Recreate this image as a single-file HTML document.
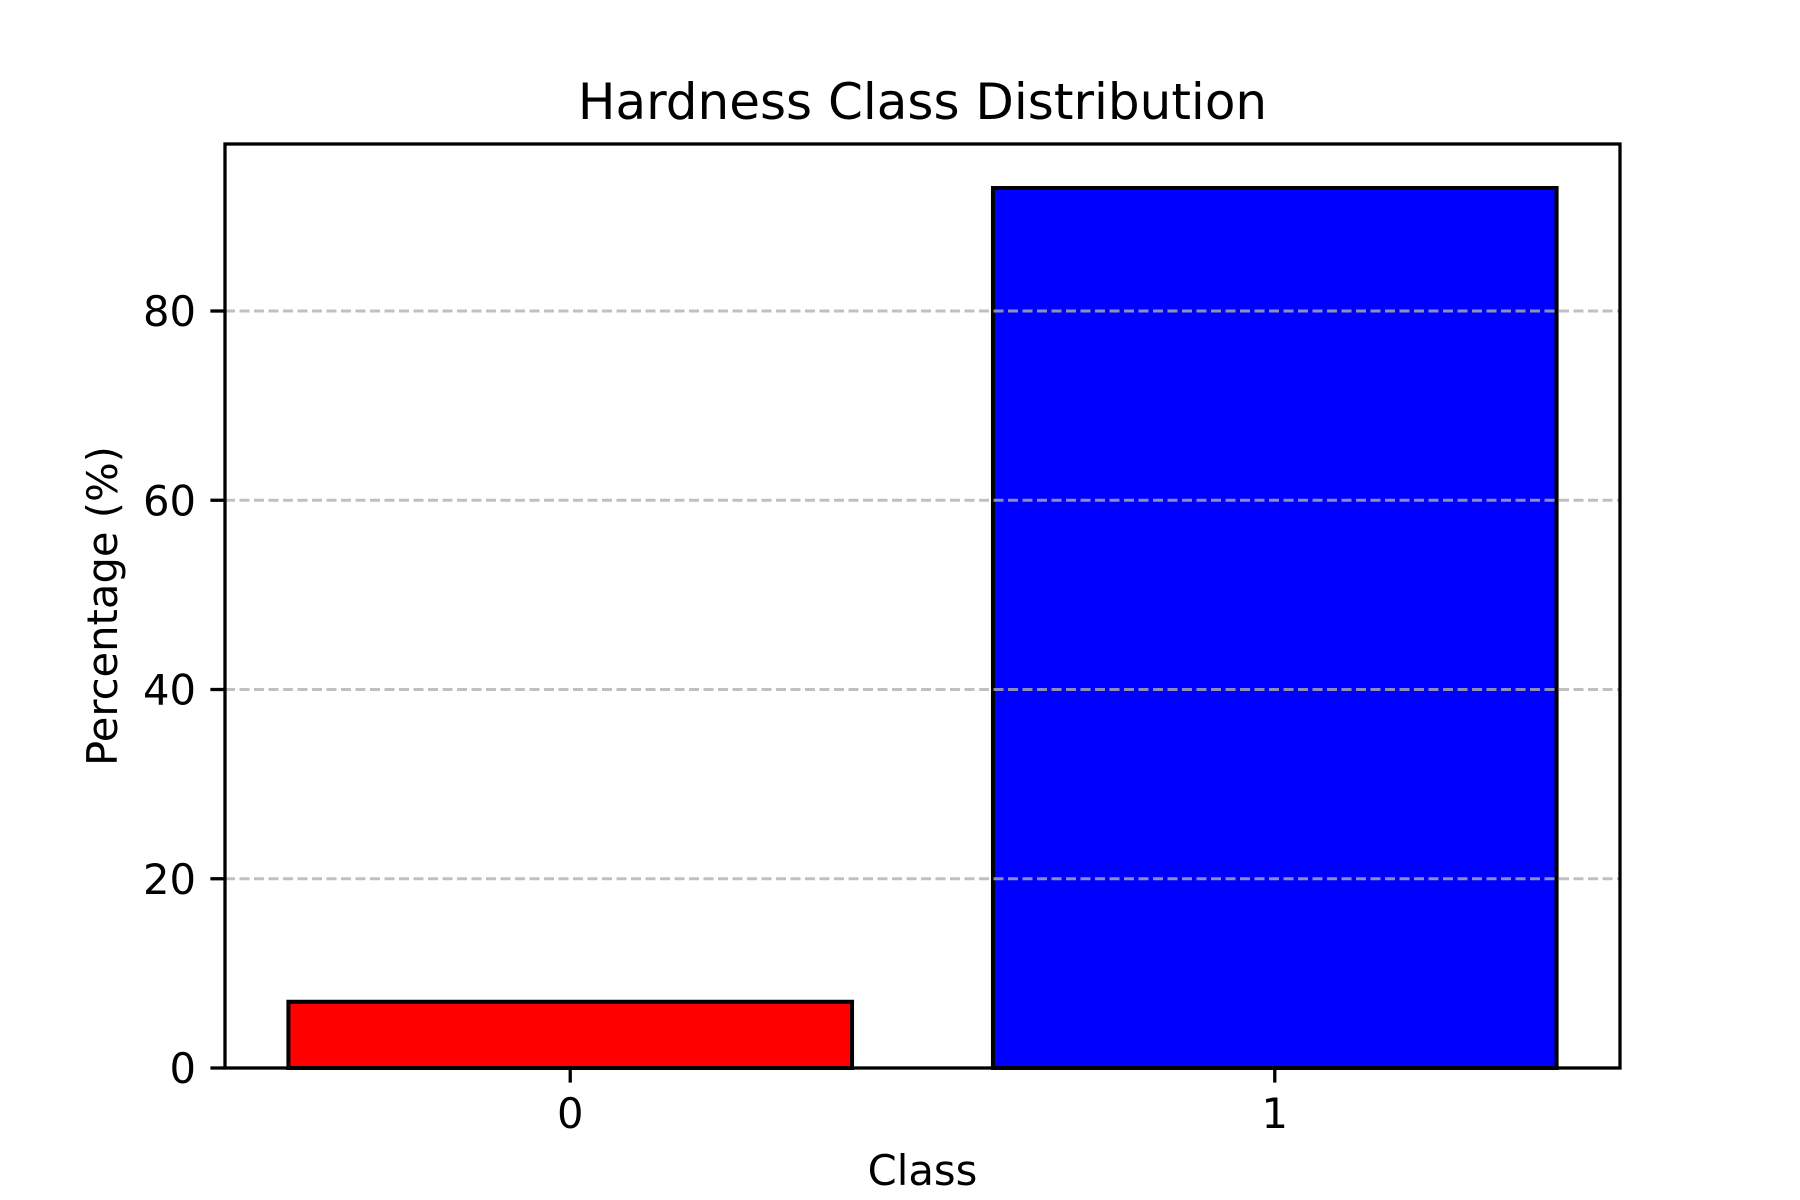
<!DOCTYPE html>
<html><head><meta charset="utf-8"><style>
html,body{margin:0;padding:0;background:#fff}
svg{display:block}
text{font-family:"DejaVu Sans","Liberation Sans",sans-serif;fill:#000}
</style></head><body>
<svg id="chart" width="1800" height="1200" xmlns="http://www.w3.org/2000/svg">
<rect width="1800" height="1200" fill="#fff"/>
<g id="bars"></g>
<g id="grid"></g>
<rect x="225" y="144" width="1395" height="924" fill="none" stroke="#000" stroke-width="3.3"/>
<g id="yticks"></g>
<g id="xticks"></g>
<text x="922.5" y="119" font-size="50" text-anchor="middle">Hardness Class Distribution</text>
<text x="922.5" y="1185" font-size="41.7" text-anchor="middle">Class</text>
<text transform="translate(117,606) rotate(-90)" font-size="41.7" text-anchor="middle">Percentage (%)</text>
</svg>
<script>
const categories = ["0", "1"];
const values = [7.0, 93.0];
const colors = ["#ff0000", "#0000ff"];
const yTicks = [0, 20, 40, 60, 80];
const yTickLabels = ["0", "20", "40", "60", "80"];

const L = 225, R = 1620, T = 144, B = 1068;
const NS = "http://www.w3.org/2000/svg";
const barW = 0.8;
const xMin = -barW / 2 - 0.05 * (categories.length - 1 + barW);
const xMax = categories.length - 1 + barW / 2 + 0.05 * (categories.length - 1 + barW);
const yMax = Math.max(...values) * 1.05;
const xs = v => L + (v - xMin) / (xMax - xMin) * (R - L);
const ys = v => B - v / yMax * (B - T);
function mk(tag, attrs, parent) {
  const e = document.createElementNS(NS, tag);
  for (const k in attrs) e.setAttribute(k, attrs[k]);
  parent.appendChild(e);
  return e;
}
const gb = document.getElementById('bars');
values.forEach((v, i) => {
  const x0 = xs(i - barW / 2), x1 = xs(i + barW / 2);
  const r = mk('rect', {x: x0, y: ys(v), width: x1 - x0, height: B - ys(v), fill: colors[i], stroke: '#000', 'stroke-width': 4}, gb);
  
  
});
const gg = document.getElementById('grid');
const gy = document.getElementById('yticks');
yTicks.forEach((t, i) => {
  const y = ys(t);
  if (t !== 0) {
    const g = mk('line', {x1: L, x2: R, y1: y, y2: y, stroke: '#b0b0b0', 'stroke-opacity': 0.8, 'stroke-width': 3, 'stroke-dasharray': '10,4.5'}, gg);
    
    
  }
  const tk = mk('line', {x1: L - 14.6, x2: L, y1: y, y2: y, stroke: '#000', 'stroke-width': 3.3}, gy);
  
  
  const lb = mk('text', {x: L - 29, y: y + 15, 'font-size': 41.7, 'text-anchor': 'end'}, gy);
  lb.textContent = yTickLabels[i];
  
  
});
const gx = document.getElementById('xticks');
categories.forEach((c, i) => {
  const x = xs(i);
  const tk = mk('line', {x1: x, x2: x, y1: B, y2: B + 14.6, stroke: '#000', 'stroke-width': 3.3}, gx);
  
  
  const lb = mk('text', {x: x, y: B + 29 + 31, 'font-size': 41.7, 'text-anchor': 'middle'}, gx);
  lb.textContent = c;
  
  
});
</script>
</body></html>
